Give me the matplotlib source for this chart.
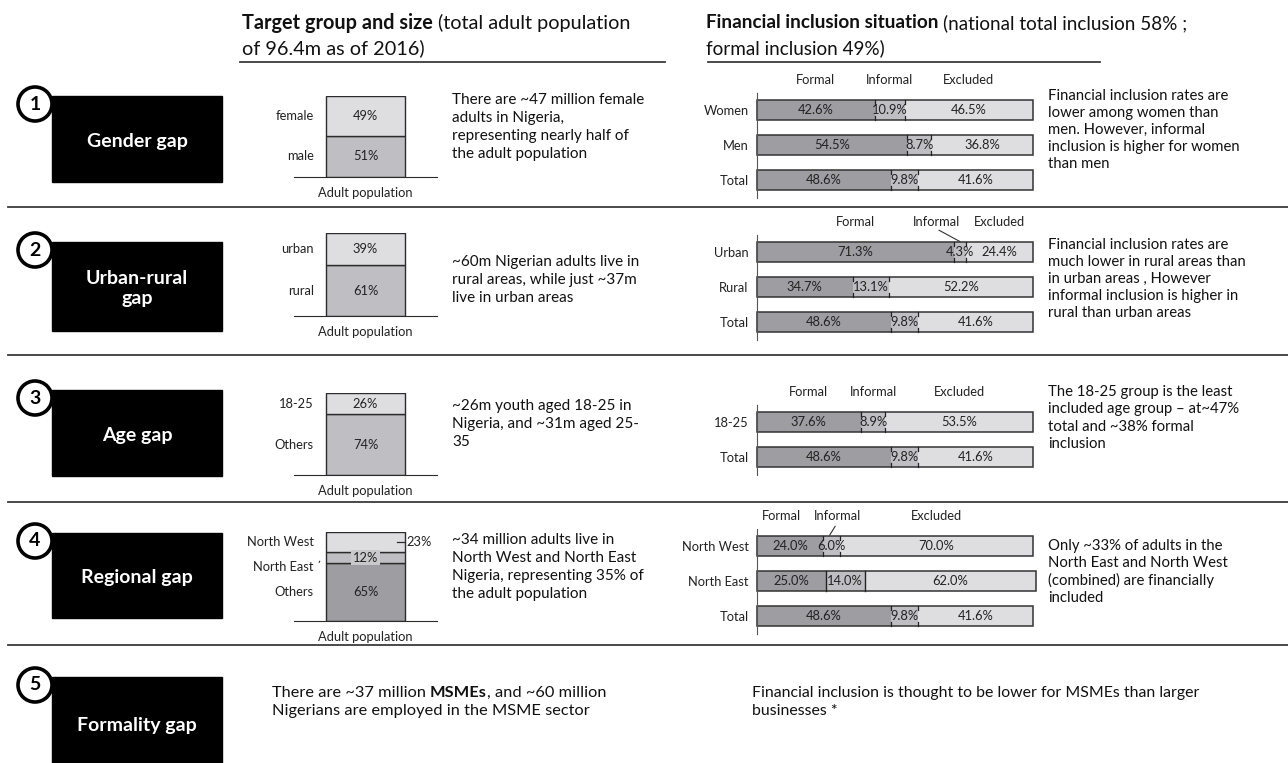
import matplotlib
matplotlib.use('Agg')
import matplotlib.pyplot as plt
from matplotlib.patches import Rectangle, Circle

plt.rcParams['font.family'] = ['Lato', 'DejaVu Sans']

W, H = 1288, 763

# ---------------- data ----------------
gap_titles = ['Gender gap', 'Urban-rural\ngap', 'Age gap', 'Regional gap', 'Formality gap']

pop_labels_1 = ['male', 'female']
pop_share_1 = [51, 49]
pop_labels_2 = ['rural', 'urban']
pop_share_2 = [61, 39]
pop_labels_3 = ['Others', '18-25']
pop_share_3 = [74, 26]
pop_labels_4 = ['Others', 'North East', 'North West']
pop_share_4 = [65, 12, 23]

fin_rows_1 = ['Women', 'Men', 'Total']
formal_1 = [42.6, 54.5, 48.6]
informal_1 = [10.9, 8.7, 9.8]
excluded_1 = [46.5, 36.8, 41.6]

fin_rows_2 = ['Urban', 'Rural', 'Total']
formal_2 = [71.3, 34.7, 48.6]
informal_2 = [4.3, 13.1, 9.8]
excluded_2 = [24.4, 52.2, 41.6]

fin_rows_3 = ['18-25', 'Total']
formal_3 = [37.6, 48.6]
informal_3 = [8.9, 9.8]
excluded_3 = [53.5, 41.6]

fin_rows_4 = ['North West', 'North East', 'Total']
formal_4 = [24.0, 25.0, 48.6]
informal_4 = [6.0, 14.0, 9.8]
excluded_4 = [70.0, 62.0, 41.6]

seg_names = ['Formal', 'Informal', 'Excluded']

mid_text = [
    "There are ~47 million female\nadults in Nigeria,\nrepresenting nearly half of\nthe adult population",
    "~60m Nigerian adults live in\nrural areas, while just ~37m\nlive in urban areas",
    "~26m youth aged 18-25 in\nNigeria, and ~31m aged 25-\n35",
    "~34 million adults live in\nNorth West and North East\nNigeria, representing 35% of\nthe adult population",
]
right_text = [
    "Financial inclusion rates are\nlower among women than\nmen. However, informal\ninclusion is higher for women\nthan men",
    "Financial inclusion rates are\nmuch lower in rural areas than\nin urban areas , However\ninformal inclusion is higher in\nrural than urban areas",
    "The 18-25 group is the least\nincluded age group \u2013 at~47%\ntotal and ~38% formal\ninclusion",
    "Only ~33% of adults in the\nNorth East and North West\n(combined) are financially\nincluded",
]

C_DARK = '#9d9da2'
C_MID = '#bfbfc3'
C_LIGHT = '#dedee0'
C_LINE = '#2b2b2b'
FS = 9.3  # small chart text

fig = plt.figure(figsize=(W / 100, H / 100), dpi=100)
bg = fig.add_axes([0, 0, 1, 1])
bg.set_xlim(0, W)
bg.set_ylim(H, 0)
bg.axis('off')


def px_axes(x0, y0, x1, y1):
    ax = fig.add_axes([x0 / W, 1 - y1 / H, (x1 - x0) / W, (y1 - y0) / H])
    ax.patch.set_alpha(0)
    return ax


def rich_line(x, y, parts, size):
    # parts: (text, weight, space_after)
    r = fig.canvas.get_renderer()
    for s, w, sp in parts:
        t = bg.text(x, y, s, fontsize=size, fontweight=w, va='center', ha='left', color='#111')
        x += t.get_window_extent(renderer=r).width + (size * 0.34 if sp else 0)


# ---------------- headers ----------------
rich_line(242, 23, [('Target group and size', 'bold', True),
                    ('(total adult population', 'normal', False)], 14.3)
bg.text(242, 48, 'of 96.4m as of 2016)', fontsize=14.3, va='center', color='#111')
rich_line(706, 23, [('Financial inclusion situation', 'bold', True),
                    ('(national total inclusion 58% ;', 'normal', False)], 13.6)
bg.text(706, 48, 'formal inclusion 49%)', fontsize=13.6, va='center', color='#111')
bg.plot([240, 665], [62, 62], color='#3c3c3c', lw=1.3)
bg.plot([708, 1100], [62, 62], color='#3c3c3c', lw=1.3)

for y in [207, 355, 502, 645]:
    bg.plot([8, W], [y, y], color='#3c3c3c', lw=1.3)

# ---------------- black title boxes ----------------
box_top = [96, 242, 390, 533, 677]
box_bot = [182, 331, 476, 618, 763]
for i, (t0, t1) in enumerate(zip(box_top, box_bot)):
    bg.add_patch(Rectangle((52, t0), 170, t1 - t0, color='black', zorder=2))
    bg.add_patch(Circle((35, t0 + 8), 17, facecolor='white', edgecolor='black', lw=2.6, zorder=3))
    bg.text(35, t0 + 8, str(i + 1), fontsize=14, fontweight='bold', ha='center', va='center', zorder=4)
    yc = (t0 + t1) / 2 if i < 4 else 724
    bg.text(137, yc + 2, gap_titles[i], fontsize=14, fontweight='bold', color='white',
            ha='center', va='center', linespacing=1.2, zorder=4)


# ---------------- population columns ----------------
def pop_column(labels, shares, colors, y_top, y_bot, outside=(), boxed=(), label_dy=None):
    ax = px_axes(294, y_top, 437, y_bot)
    ax.set_xlim(-0.9, 0.9)
    ax.set_ylim(0, 100)
    bottoms = [sum(shares[:i]) for i in range(len(shares))]
    ax.bar([0] * len(shares), shares, bottom=bottoms, width=1.0, color=colors,
           edgecolor=C_LINE, lw=1.0)
    for s in ['top', 'left', 'right']:
        ax.spines[s].set_visible(False)
    ax.spines['bottom'].set_color(C_LINE)
    ax.set_xticks([])
    ax.set_yticks([])
    label_dy = label_dy or {}
    for lab, v, b in zip(labels, shares, bottoms):
        mid = b + v / 2
        ax.annotate(lab, (-0.65, mid), xytext=(0, -label_dy.get(lab, 0)), textcoords='offset pixels',
                    ha='right', va='center', fontsize=FS, color='#222')
        if lab in outside:
            ax.plot([0.4, 0.5], [mid, mid], color=C_LINE, lw=0.9, clip_on=False)
            ax.text(0.52, mid, f'{v}%', ha='left', va='center', fontsize=FS, color='#222')
        elif lab in boxed:
            ax.text(0, mid, f'{v}%', ha='center', va='center', fontsize=FS, color='#222',
                    bbox=dict(boxstyle='square,pad=0.12', fc='#c9c9cc', ec='none'))
        else:
            ax.text(0, mid, f'{v}%', ha='center', va='center', fontsize=FS, color='#222')
    ax.annotate('Adult population', (0, 0), xytext=(0, -16), textcoords='offset pixels',
                ha='center', va='center', fontsize=FS, color='#222', annotation_clip=False)
    return ax


pop_column(pop_labels_1, pop_share_1, [C_MID, C_LIGHT], 96, 177)
pop_column(pop_labels_2, pop_share_2, [C_MID, C_LIGHT], 233, 316)
pop_column(pop_labels_3, pop_share_3, [C_MID, C_LIGHT], 393, 475)
ax4 = pop_column(pop_labels_4, pop_share_4, [C_DARK, C_MID, C_LIGHT], 532, 621,
                 outside=('North West',), boxed=('North East',), label_dy={'North East': 9})
ne_mid = pop_share_4[0] + pop_share_4[1] / 2
ax4.annotate('', (-0.56, ne_mid - 1), xytext=(-0.6, ne_mid - 8),
             arrowprops=dict(arrowstyle='-', color=C_LINE, lw=0.8), annotation_clip=False)


# ---------------- financial inclusion bars ----------------
def fin_chart(rows, formal, informal, excluded, y_first, head_x=None, solid=()):
    n = len(rows)
    pitch = 35
    ax = px_axes(757, y_first - pitch / 2, 1033, y_first + pitch * (n - 1) + pitch / 2)
    ax.set_xlim(0, 100)
    ax.set_ylim(n - 0.5, -0.5)
    y = list(range(n))
    hgt = 0.57
    left2 = [f + i for f, i in zip(formal, informal)]
    totals = [a + b for a, b in zip(left2, excluded)]
    ax.barh(y, formal, height=hgt, color=C_DARK, clip_on=False)
    ax.barh(y, informal, left=formal, height=hgt, color=C_MID, clip_on=False)
    ax.barh(y, excluded, left=left2, height=hgt, color=C_LIGHT, clip_on=False)
    ax.barh(y, totals, height=hgt, fill=False, edgecolor='#333', lw=1.1, clip_on=False)
    for i in y:
        for b in (formal[i], left2[i]):
            if i in solid:
                ax.plot([b, b], [i - hgt / 2, i + hgt / 2], color='#222', lw=1.0)
            else:
                ax.plot([b, b], [i + hgt / 2, i + hgt / 2 - 0.12], color='#222', lw=0.9)
                ax.plot([b, b], [i - hgt / 2, i - hgt / 2 + 0.12], color='#222', lw=0.9)
        segs = [(0, formal[i]), (formal[i], informal[i]), (left2[i], excluded[i])]
        for l, v in segs:
            ax.text(l + v / 2, i, f'{v:.1f}%', ha='center', va='center', fontsize=FS, color='#222')
    # segment headers above the first row
    head_x = head_x or {}
    for name, (l, v) in zip(seg_names, [(0, formal[0]), (formal[0], informal[0]), (left2[0], excluded[0])]):
        ax.text(head_x.get(name, l + v / 2), -30 / pitch, name, ha='center', va='center',
                fontsize=FS, color='#222', clip_on=False)
    for s in ['top', 'right', 'bottom']:
        ax.spines[s].set_visible(False)
    ax.spines['left'].set_color('#555')
    ax.set_xticks([])
    ax.set_yticks(y)
    ax.set_yticklabels(rows, fontsize=FS, color='#222')
    ax.tick_params(axis='y', length=0, pad=6)
    return ax


fin_chart(fin_rows_1, formal_1, informal_1, excluded_1, 110)
a2 = fin_chart(fin_rows_2, formal_2, informal_2, excluded_2, 252, head_x={'Informal': 65})
a2.plot([66, 73.5], [-0.62, -0.3], color='#333', lw=0.8, clip_on=False)
fin_chart(fin_rows_3, formal_3, informal_3, excluded_3, 422)
a4 = fin_chart(fin_rows_4, formal_4, informal_4, excluded_4, 546,
               head_x={'Formal': 9, 'Informal': 29}, solid=(1,))
a4.plot([28.3, 26.4], [-0.56, -0.32], color='#333', lw=0.8, clip_on=False)

# ---------------- descriptive texts ----------------
mid_y = [127, 280, 424, 567]
right_y = [130, 279, 418, 572]
for txt, yy in zip(mid_text, mid_y):
    bg.text(452, yy, txt, fontsize=11, va='center', ha='left', linespacing=1.37, color='#111')
for txt, yy in zip(right_text, right_y):
    bg.text(1048, yy, txt, fontsize=10.7, va='center', ha='left', linespacing=1.28, color='#111')

rich_line(272, 693, [('There are ~37 million', 'normal', True), ('MSMEs', 'bold', False),
                     (', and ~60 million', 'normal', False)], 11.8)
bg.text(272, 711, 'Nigerians are employed in the MSME sector', fontsize=11.8, va='center', color='#111')
bg.text(752, 693, 'Financial inclusion is thought to be lower for MSMEs than larger',
        fontsize=11.4, va='center', color='#111')
bg.text(752, 711, 'businesses *', fontsize=11.4, va='center', color='#111')

fig.savefig('out.png', dpi=100)
